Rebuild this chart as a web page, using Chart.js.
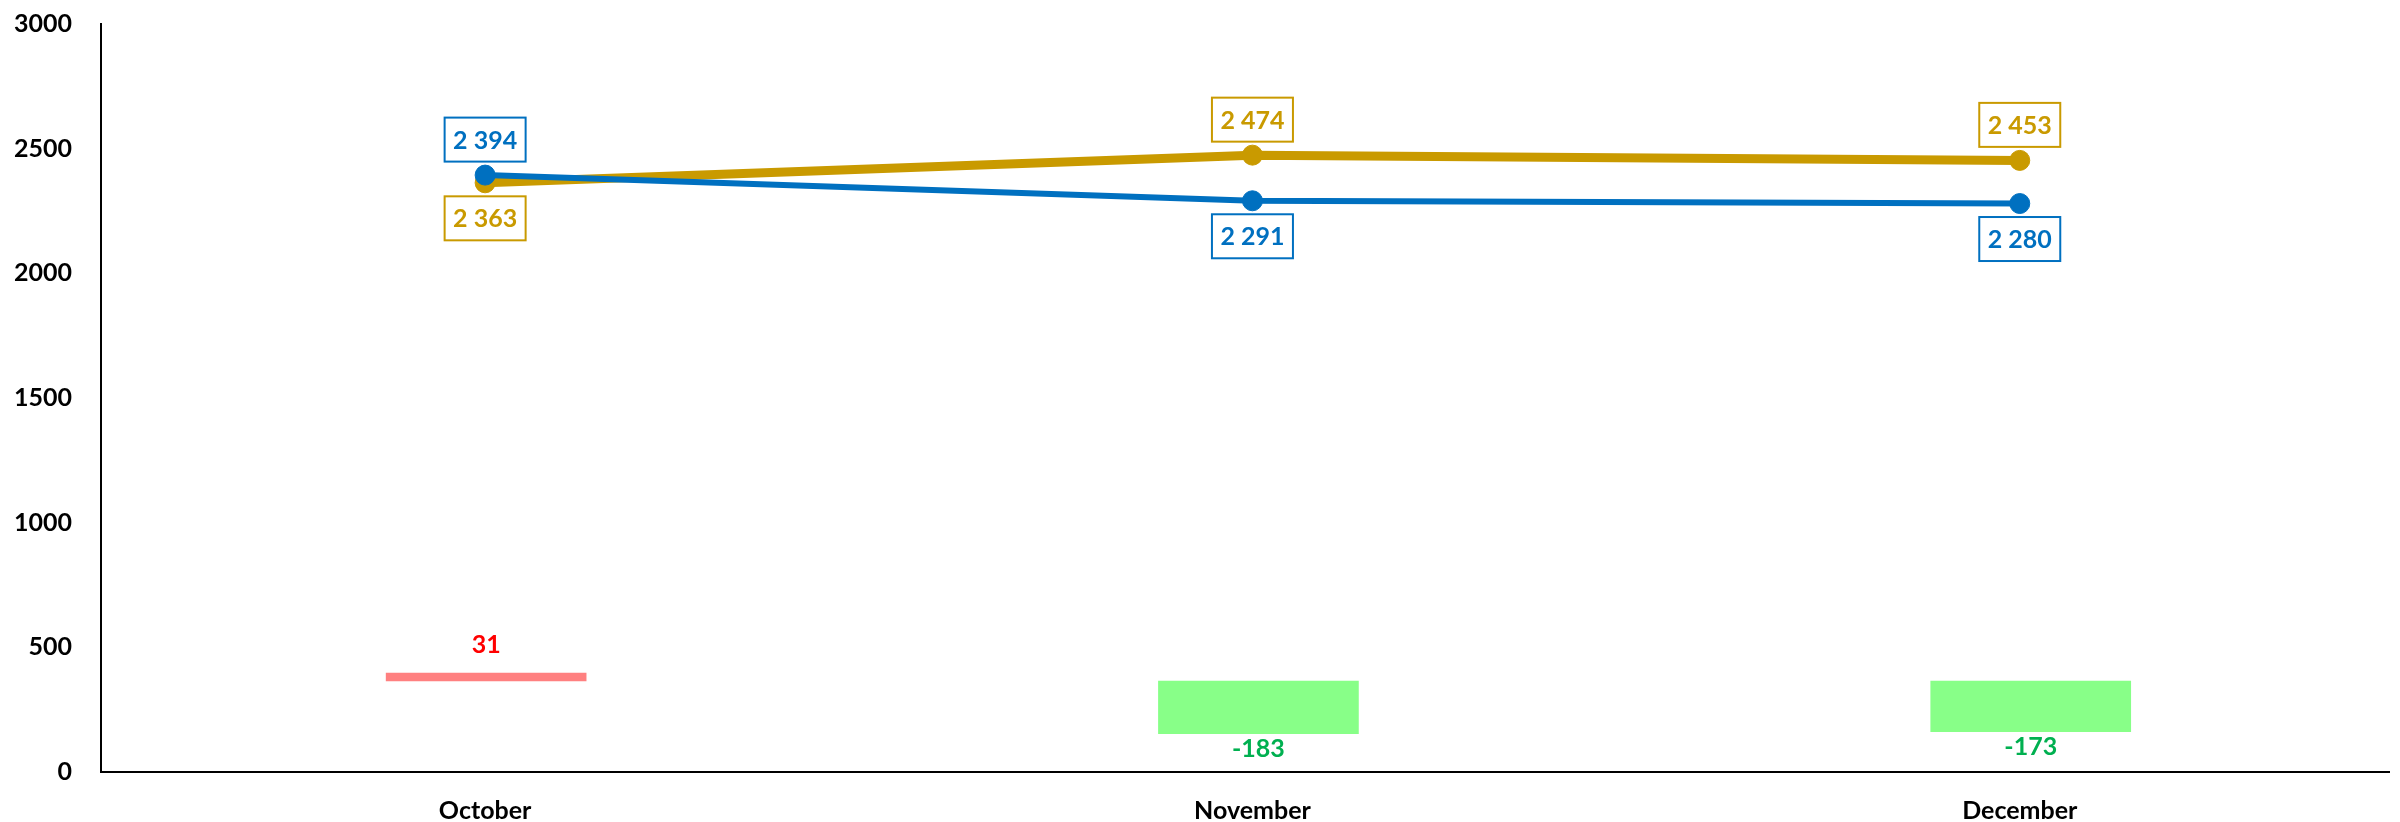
<!DOCTYPE html>
<html>
<head>
<meta charset="utf-8">
<title>Monthly comparison</title>
<script src="https://cdn.jsdelivr.net/npm/chart.js@4.4.1/dist/chart.umd.min.js"></script>
<style>
  html, body { margin: 0; padding: 0; background: #ffffff; overflow: hidden; }
  #chart { display: block; }
</style>
</head>
<body>
<canvas id="chart" width="2400" height="822"></canvas>
<script>
const months = ["October", "November", "December"];
const blueValues = [2394, 2291, 2280];
const goldValues = [2363, 2474, 2453];
// floating difference bars: [start, end]
const diffBars = [[365, 397], [365, 154], [365, 162]];
const diffLabels = [31, -183, -173];
const yTicks = [0, 500, 1000, 1500, 2000, 2500, 3000];

const BLUE = "#0070C0";
const GOLD = "#C99A00";
const FONT = "Lato, 'Noto Sans', sans-serif";

function formatThousands(value) {
  return String(value).replace(/\B(?=(\d{3})+(?!\d))/g, " ");
}

const labelPlugin = {
  id: "valueLabels",
  afterDatasetsDraw(chart) {
    const ctx = chart.ctx;
    ctx.save();
    ctx.font = `bold 25px ${FONT}`;
    ctx.textAlign = "center";
    ctx.textBaseline = "middle";

    // difference bar labels
    const barMeta = chart.getDatasetMeta(2);
    barMeta.data.forEach((bar, i) => {
      const top = Math.min(bar.y, bar.base);
      const bottom = Math.max(bar.y, bar.base);
      const value = diffLabels[i];
      if (value >= 0) {
        ctx.fillStyle = "#FF0000";
        ctx.fillText(String(value), bar.x, top - 28);
      } else {
        ctx.fillStyle = "#00B050";
        ctx.fillText(String(value), bar.x, bottom + 15);
      }
    });

    // boxed labels on the two lines, above for the higher series
    const series = [
      { meta: chart.getDatasetMeta(0), values: blueValues, other: goldValues, color: BLUE },
      { meta: chart.getDatasetMeta(1), values: goldValues, other: blueValues, color: GOLD },
    ];
    series.forEach((s) => {
      s.meta.data.forEach((pt, i) => {
        const above = s.values[i] > s.other[i];
        const cy = above ? pt.y - 35.5 : pt.y + 35.5;
        const w = 81;
        const h = 44;
        ctx.fillStyle = "#ffffff";
        ctx.fillRect(pt.x - w / 2, cy - h / 2, w, h);
        ctx.lineWidth = 2;
        ctx.strokeStyle = s.color;
        ctx.strokeRect(pt.x - w / 2, cy - h / 2, w, h);
        ctx.fillStyle = s.color;
        ctx.fillText(formatThousands(s.values[i]), pt.x, cy + 1);
      });
    });
    ctx.restore();
  },
};

new Chart(document.getElementById("chart"), {
  type: "bar",
  data: {
    datasets: [
      {
        type: "line",
        label: "Series 1",
        data: blueValues.map((v, i) => ({ x: i, y: v })),
        xAxisID: "x",
        borderColor: BLUE,
        backgroundColor: BLUE,
        borderWidth: 6,
        pointRadius: 10,
        pointBorderWidth: 1,
        pointBackgroundColor: BLUE,
        pointBorderColor: BLUE,
        tension: 0,
      },
      {
        type: "line",
        label: "Series 2",
        data: goldValues.map((v, i) => ({ x: i, y: v })),
        xAxisID: "x",
        borderColor: GOLD,
        backgroundColor: GOLD,
        borderWidth: 9,
        pointRadius: 10,
        pointBorderWidth: 1,
        pointBackgroundColor: GOLD,
        pointBorderColor: GOLD,
        tension: 0,
      },
      {
        type: "bar",
        label: "Difference",
        data: diffBars.map((v, i) => ({ x: i, y: v })),
        xAxisID: "x2",
        backgroundColor: diffLabels.map((v) => (v >= 0 ? "#FF8080" : "#88FF88")),
        borderWidth: 0,
        grouped: false,
        barThickness: 200,
      },
    ],
  },
  options: {
    responsive: false,
    animation: false,
    devicePixelRatio: 1,
    layout: { padding: 0 },
    plugins: {
      legend: { display: false },
      tooltip: { enabled: false },
    },
    scales: {
      x: {
        type: "linear",
        offset: false,
        min: -0.5006,
        max: 2.4812,
        grid: { display: false, drawTicks: false, offset: false },
        border: { display: true, color: "#000000", width: 2 },
        afterBuildTicks: (scale) => {
          scale.ticks = months.map((_, i) => ({ value: i }));
        },
        afterFit: (scale) => {
          scale.height = 50;
        },
        ticks: {
          autoSkip: false,
          maxRotation: 0,
          padding: 24,
          color: "#000000",
          font: { family: FONT, size: 25, weight: "bold" },
          callback: (value) => months[value] ?? "",
        },
      },
      x2: {
        type: "linear",
        display: false,
        offset: false,
        min: -0.4987,
        max: 2.4639,
        grid: { offset: false },
      },
      y: {
        min: 0,
        max: 3000,
        grid: { display: false, drawTicks: false },
        border: { display: true, color: "#000000", width: 2 },
        afterBuildTicks: (scale) => {
          scale.ticks = yTicks.map((v) => ({ value: v }));
        },
        afterFit: (scale) => {
          scale.width = 101;
          scale.paddingTop = 24;
          scale.paddingBottom = 0;
        },
        ticks: {
          padding: 29,
          color: "#000000",
          font: { family: FONT, size: 25, weight: "bold" },
          callback: (value) => String(value),
        },
      },
    },
  },
  plugins: [labelPlugin],
});
</script>
</body>
</html>
